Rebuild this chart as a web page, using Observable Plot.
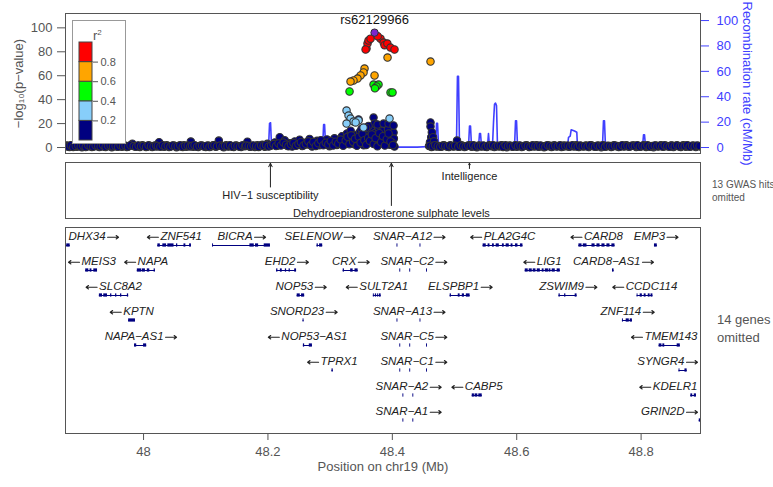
<!DOCTYPE html>
<html><head><meta charset="utf-8">
<script src="https://cdn.jsdelivr.net/npm/d3@7"></script>
<script src="https://cdn.jsdelivr.net/npm/@observablehq/plot@0.6"></script>
<style>
body{margin:0;background:#fff;font-family:"Liberation Sans",Arial,Helvetica,sans-serif;}
#wrap{position:relative;width:773px;height:487px;overflow:hidden;background:#fff}
#wrap > *{position:absolute}
.note{color:#555;white-space:nowrap}
</style></head><body><div id="wrap"></div>
<script>
// ---------------- DATA ----------------
const xDomain = [47.8745, 48.8955];           // Mb shown on chr19
const xTicks = [48, 48.2, 48.4, 48.6, 48.8];
const yTicks = [0, 20, 40, 60, 80, 100];      // -log10(p)
const recTicks = [0, 20, 40, 60, 80, 100];    // cM/Mb

const leadSNP = {id: "rs62129966", pos: 48.3714, logp: 96};

const r2Breaks = [0.2, 0.4, 0.6, 0.8];
const r2Colors = ["#000080", "#87CEFA", "#00FF00", "#FFA500", "#FF0000"];

// [position Mb, -log10 p]
const redSNPs = [[48.3585,82.7],[48.3601,86.9],[48.3617,89.4],[48.365,91],[48.357,81.9],[48.381,91],
  [48.386,87.7],[48.3875,85.5],[48.392,86.9],[48.397,83.5],[48.4035,81.9],[48.3765,93]];
const orangeSNPs = [[48.3923,75.2],[48.4614,71.8],[48.3553,66],[48.3537,62.7],[48.3489,60.2],
  [48.344,57.6],[48.3376,56],[48.3328,55.1],[48.3714,60.2]];
const greenSNPs = [[48.3312,46.8],[48.3698,52.6],[48.3778,52.6],[48.3746,51],[48.3971,46],[48.4003,46],[48.372,49.5]];
const lightBlueSNPs = [[48.3264,30.9],[48.3296,26.7],[48.3328,24.2],[48.3376,21.7],[48.3457,22.6],
  [48.3537,16.7],[48.3264,20],[48.3955,24.2],[48.341,21]];
const navySNPs = [
  [47.873,0.9],[47.877,1.6],[47.881,0.4],[47.885,1.2],[47.889,1.8],[47.893,0.6],[47.897,1.4],[47.901,0.3],
  [47.905,1.7],[47.909,0.8],[47.913,1.3],[47.917,0.5],[47.921,1.9],[47.925,1.0],[47.929,0.4],[47.933,1.5],
  [47.937,0.7],[47.941,1.8],[47.945,1.1],[47.949,0.3],[47.953,1.6],[47.957,0.9],[47.961,1.4],[47.965,0.6],
  [47.969,1.7],[47.973,0.4],[47.977,1.2],[47.982,3.2],[47.986,0.8],[47.990,1.5],[47.994,0.5],[47.998,1.8],
  [48.002,1.0],[48.006,0.6],[48.010,1.4],[48.014,0.4],[48.018,1.6],[48.021,0.9],[48.025,4.4],[48.029,1.3],
  [48.033,0.7],[48.037,1.8],[48.041,0.5],[48.045,1.2],[48.049,1.6],[48.053,0.3],[48.057,1.5],[48.061,0.9],
  [48.065,1.8],[48.069,0.6],[48.073,1.3],[48.076,5.0],[48.080,0.6],[48.084,1.3],[48.088,0.4],[48.092,1.7],
  [48.096,1.0],[48.100,0.5],[48.104,1.6],[48.108,0.8],[48.112,1.9],[48.116,0.6],[48.121,5.8],[48.125,1.4],
  [48.129,0.3],[48.133,1.8],[48.137,0.9],[48.141,1.2],[48.145,0.5],[48.149,1.7],[48.153,1.1],[48.157,0.4],
  [48.161,1.5],[48.167,4.9],[48.171,0.6],[48.175,1.5],[48.179,0.4],[48.183,1.9],[48.187,1.0],[48.191,2.4],
  [48.195,0.7],[48.199,3.1],[48.203,1.3],[48.207,2.2],[48.211,4.2],[48.215,1.5],[48.219,8.6],[48.223,2.8],
  [48.227,6.0],[48.231,1.5],[48.235,3.6],[48.239,0.8],[48.243,5.1],[48.247,2.0],[48.251,6.5],[48.255,1.2],
  [48.259,4.0],[48.263,2.6],[48.267,7.1],[48.271,0.9],[48.275,3.3],[48.279,5.6],[48.283,1.8],[48.287,4.7],
  [48.291,2.5],[48.295,6.8],[48.299,1.1],[48.303,3.9],[48.307,7.7],[48.311,2.2],[48.315,5.3],[48.319,9.5],
  [48.323,3.0],[48.327,11.8],[48.330,6.2],[48.333,14.0],[48.336,8.4],[48.339,2.7],[48.342,10.6],[48.345,5.0],
  [48.348,13.2],[48.351,7.5],[48.354,1.8],[48.357,11.0],[48.360,4.3],[48.363,9.2],[48.366,14.8],[48.369,6.7],
  [48.372,12.2],[48.375,3.5],[48.378,16.0],[48.381,8.8],[48.384,13.6],[48.387,5.4],[48.390,10.3],[48.393,15.1],
  [48.396,2.4],[48.399,9.7],[48.402,12.5],[48.4025,7.5],[48.4035,0.8],[48.400,4.0],
  [48.3698,25],[48.3714,20],[48.3762,19.2],[48.3859,20],[48.3939,20],[48.402,18.4],[48.3457,23.4],
  [48.3617,18],[48.3505,15.5],[48.358,16.5],
  [48.4614,20.9],[48.4614,17.5],[48.4625,8.6],[48.4635,12.8],[48.4655,8.6],[48.4605,4.5],[48.467,5.2],
  [48.459,1.2],[48.463,0.5],[48.467,1.7],[48.471,0.9],[48.475,1.3],[48.479,0.6],[48.483,1.8],[48.487,1.0],
  [48.491,0.4],[48.495,1.5],[48.499,0.8],[48.504,5.8],[48.508,0.7],[48.512,1.6],[48.516,0.4],[48.520,1.3],
  [48.524,1.9],[48.528,0.6],[48.532,1.4],[48.536,0.3],[48.540,1.7],[48.544,0.9],[48.548,1.2],[48.552,0.5],
  [48.556,1.8],[48.560,1.0],[48.564,0.4],[48.568,1.5],[48.572,0.8],[48.576,1.9],[48.580,1.1],[48.584,0.3],
  [48.588,1.6],[48.592,0.9],[48.596,1.4],[48.600,0.6],[48.604,1.7],[48.608,0.4],[48.612,1.2],[48.616,1.8],
  [48.620,0.5],[48.624,1.5],[48.628,0.9],[48.632,1.9],[48.636,0.7],[48.640,1.3],[48.644,0.3],[48.648,1.6],
  [48.652,1.0],[48.656,0.5],[48.660,1.8],[48.664,0.8],[48.668,1.4],[48.672,0.4],[48.676,1.7],[48.680,1.1],
  [48.684,0.6],[48.688,1.5],[48.692,0.9],[48.696,1.9],[48.700,0.5],[48.704,1.3],[48.708,0.8],[48.712,1.6],
  [48.716,0.4],[48.720,1.8],[48.724,1.0],[48.728,0.6],[48.732,1.4],[48.736,0.3],[48.740,1.7],[48.744,0.9],
  [48.748,1.2],[48.752,0.5],[48.756,1.8],[48.760,1.1],[48.764,0.4],[48.768,1.5],[48.772,0.8],[48.776,1.9],
  [48.780,0.6],[48.784,1.3],[48.788,1.7],[48.792,0.4],[48.796,1.2],[48.800,0.9],[48.804,1.8],[48.808,0.5],
  [48.812,1.4],[48.816,1.0],[48.820,0.3],[48.824,1.6],[48.828,0.8],[48.832,1.9],[48.836,0.6],[48.840,1.3],
  [48.844,0.9],[48.848,1.7],[48.852,0.4],[48.856,1.5],[48.860,1.1],[48.864,0.5],[48.868,1.8],[48.872,0.7],
  [48.876,1.4],[48.880,0.9],[48.884,1.6],[48.888,0.4],[48.892,1.2],[48.896,0.8]
];
// second layer of low-LD SNPs filling the dense baseline band
const navyBandSNPs = [
  [47.875,1.4],[47.879,0.7],[47.883,1.9],[47.887,0.5],[47.891,1.3],[47.895,1.7],[47.899,0.9],[47.903,1.5],
  [47.907,0.4],[47.911,1.8],[47.915,1.1],[47.919,0.6],[47.923,1.6],[47.927,1.2],[47.931,0.8],[47.935,1.9],
  [47.939,0.5],[47.943,1.4],[47.947,1.7],[47.951,0.9],[47.955,1.3],[47.959,0.6],[47.963,1.8],[47.967,1.0],
  [47.971,1.5],[47.975,0.7],[47.979,1.9],[47.984,1.2],[47.988,0.6],[47.992,1.7],[47.996,1.0],[48.000,1.4],
  [48.004,0.5],[48.008,1.8],[48.012,1.1],[48.016,0.8],[48.020,1.6],[48.023,1.3],[48.027,0.7],[48.031,1.9],
  [48.035,1.0],[48.039,1.4],[48.043,0.6],[48.047,1.7],[48.051,1.1],[48.055,0.9],[48.059,1.8],[48.063,0.5],
  [48.067,1.3],[48.071,1.6],[48.075,0.8],[48.078,1.4],[48.082,1.9],[48.086,0.7],[48.090,1.2],[48.094,1.6],
  [48.098,0.9],[48.102,1.5],[48.106,0.4],[48.110,1.3],[48.114,1.8],[48.118,1.0],[48.123,1.6],[48.127,0.8],
  [48.131,1.4],[48.135,1.1],[48.139,1.9],[48.143,0.6],[48.147,1.5],[48.151,1.2],[48.155,0.7],[48.159,1.8],
  [48.163,1.0],[48.165,1.6],[48.169,1.3],[48.173,0.9],[48.177,1.7],[48.181,1.1],[48.185,0.5],[48.189,1.8],
  [48.193,1.3],[48.197,2.2],[48.201,0.8],[48.205,1.6],[48.209,2.9],[48.213,1.2],[48.217,3.4],[48.221,1.7],
  [48.225,4.1],[48.229,2.3],[48.233,1.0],[48.237,2.7],[48.241,3.8],[48.245,1.4],[48.249,2.9],[48.253,4.4],
  [48.257,1.6],[48.261,3.1],[48.265,5.2],[48.269,2.0],[48.273,4.6],[48.277,1.3],[48.281,3.5],[48.285,6.1],
  [48.289,1.9],[48.293,4.0],[48.297,2.6],[48.301,5.5],[48.305,1.7],[48.309,4.9],[48.313,3.2],[48.317,6.6],
  [48.321,1.5],[48.325,5.8],[48.328,8.9],[48.331,2.8],[48.334,10.2],[48.337,4.6],[48.340,7.3],[48.343,1.4],
  [48.346,9.0],[48.349,3.9],[48.352,11.4],[48.355,6.1],[48.358,2.2],[48.361,8.0],[48.364,5.5],[48.367,10.9],
  [48.370,2.9],[48.373,7.8],[48.376,1.0],[48.379,12.0],[48.382,4.5],[48.385,9.4],[48.388,1.6],[48.391,6.9],
  [48.394,11.7],[48.397,5.1],[48.401,2.0],
  [48.461,1.5],[48.465,0.8],[48.469,1.9],[48.473,1.1],[48.477,0.6],[48.481,1.6],[48.485,1.3],[48.489,0.7],
  [48.493,1.8],[48.497,1.0],[48.501,1.5],[48.506,0.6],[48.510,1.9],[48.514,1.2],[48.518,0.8],[48.522,1.6],
  [48.526,1.1],[48.530,1.8],[48.534,0.7],[48.538,1.4],[48.542,1.0],[48.546,1.7],[48.550,0.6],[48.554,1.5],
  [48.558,1.2],[48.562,1.9],[48.566,0.8],[48.570,1.3],[48.574,1.6],[48.578,0.5],[48.582,1.8],[48.586,1.1],
  [48.590,1.4],[48.594,0.7],[48.598,1.9],[48.602,1.0],[48.606,1.5],[48.610,0.8],[48.614,1.6],[48.618,1.2],
  [48.622,0.6],[48.626,1.8],[48.630,1.3],[48.634,0.9],[48.638,1.7],[48.642,1.1],[48.646,0.6],[48.650,1.9],
  [48.654,1.4],[48.658,0.8],[48.662,1.5],[48.666,1.0],[48.670,1.8],[48.674,0.7],[48.678,1.3],[48.682,1.6],
  [48.686,0.9],[48.690,1.9],[48.694,1.2],[48.698,0.6],[48.702,1.7],[48.706,1.1],[48.710,1.4],[48.714,0.8],
  [48.718,1.9],[48.722,1.3],[48.726,0.7],[48.730,1.6],[48.734,1.0],[48.738,1.8],[48.742,0.6],[48.746,1.5],
  [48.750,1.2],[48.754,0.9],[48.758,1.7],[48.762,1.3],[48.766,0.6],[48.770,1.9],[48.774,1.1],[48.778,1.4],
  [48.782,0.8],[48.786,1.6],[48.790,1.2],[48.794,1.9],[48.798,0.7],[48.802,1.5],[48.806,1.1],[48.810,1.8],
  [48.814,0.6],[48.818,1.3],[48.822,1.7],[48.826,1.0],[48.830,1.5],[48.834,0.8],[48.838,1.9],[48.842,1.2],
  [48.846,0.6],[48.850,1.6],[48.854,1.1],[48.858,1.8],[48.862,0.9],[48.866,1.4],[48.870,1.2],[48.874,1.9],
  [48.878,0.6],[48.882,1.5],[48.886,1.0],[48.890,1.7],[48.894,1.3]
];

// recombination rate (cM/Mb)
const recombPos  = [47.8745,48.0,48.1,48.2010,48.2026,48.2042,48.2058,48.2880,48.2895,48.2911,48.2927,48.350,48.404,48.440,
  48.4695,48.4711,48.4727,48.4743,48.5031,48.5047,48.5064,48.5080,48.5225,48.5241,48.5257,48.5273,
  48.5386,48.5402,48.5418,48.5434,48.5530,48.5546,48.5562,48.5611,48.5627,48.5643,48.5659,48.5675,48.5691,
  48.5965,48.5981,48.5997,48.6013,48.6817,48.6833,48.6860,48.6876,48.6930,48.6966,48.6977,
  48.7379,48.7395,48.7411,48.7427,48.8023,48.8039,48.8055,48.8071,48.8955];
const recombRate = [0.8,0.6,1.0,0.8,19,19.5,0.8,0.9,18,18,0.8,1.5,0.3,0.3,
  1.0,19,19,1.0,1.0,56,56,1.0,1.0,17,17,1.0,
  1.0,11,11,1.0,1.0,11,1.0,2.0,20,34,35,33,1.0,
  1.0,21,21,1.0,1.0,8,9,14,13,12,1.0,
  1.0,21,21,1.0,1.0,10,10,1.0,1.0];

// GWAS catalog hits
const gwasTraits = ["HIV\u22121 susceptibility", "Dehydroepiandrosterone sulphate levels", "Intelligence"];
const gwasPos    = [48.204, 48.3985, 48.524];
const gwasLevel  = [1, 2, 0];

// genes: strand 1 = forward, -1 = reverse; exons as [start,end] Mb
const genes = [
 {name:"DHX34", strand:1, row:1, exons:[[47.866,47.875],[47.8765,47.882]]},
 {name:"ZNF541", strand:-1, row:1, exons:[[48.023,48.027],[48.031,48.037],[48.039,48.049],[48.053,48.055],[48.065,48.068],[48.074,48.077]]},
 {name:"BICRA", strand:1, row:1, exons:[[48.111,48.1125],[48.171,48.178],[48.180,48.185],[48.194,48.204]]},
 {name:"SELENOW", strand:1, row:1, exons:[[48.279,48.281],[48.283,48.288]]},
 {name:"SNAR\u2212A12", strand:1, row:1, line:false, exons:[[48.4075,48.409],[48.4445,48.446]]},
 {name:"PLA2G4C", strand:-1, row:1, exons:[[48.546,48.551],[48.554,48.557],[48.561,48.564],[48.567,48.572],[48.577,48.580],[48.583,48.588],[48.591,48.594],[48.598,48.602],[48.606,48.610]]},
 {name:"CARD8", strand:-1, row:1, exons:[[48.700,48.705],[48.707,48.713],[48.721,48.726],[48.729,48.734],[48.737,48.742],[48.745,48.750],[48.753,48.758]]},
 {name:"EMP3", strand:1, row:1, exons:[[48.8215,48.826]]},
 {name:"MEIS3", strand:-1, row:2, exons:[[47.907,47.912],[47.914,47.917],[47.920,47.926]]},
 {name:"NAPA", strand:-1, row:2, exons:[[47.990,47.997],[47.998,48.003],[48.006,48.010],[48.017,48.019]]},
 {name:"EHD2", strand:1, row:2, exons:[[48.214,48.216],[48.220,48.223],[48.228,48.230],[48.234,48.236],[48.243,48.246]]},
 {name:"CRX", strand:1, row:2, exons:[[48.321,48.323],[48.333,48.337],[48.340,48.345]]},
 {name:"SNAR\u2212C2", strand:1, row:2, line:false, exons:[[48.412,48.4135],[48.428,48.4295],[48.455,48.4565]]},
 {name:"LIG1", strand:-1, row:2, exons:[[48.6137,48.6185],[48.620,48.625],[48.6265,48.631],[48.633,48.638],[48.641,48.644],[48.646,48.651],[48.652,48.655],[48.657,48.662],[48.665,48.670]]},
 {name:"CARD8\u2212AS1", strand:1, row:2, exons:[[48.754,48.7565]]},
 {name:"SLC8A2", strand:-1, row:3, exons:[[47.929,47.934],[47.936,47.942],[47.947,47.949],[47.955,47.957],[47.963,47.965],[47.974,47.976]]},
 {name:"NOP53", strand:1, row:3, exons:[[48.247,48.252],[48.254,48.259]]},
 {name:"SULT2A1", strand:-1, row:3, exons:[[48.3695,48.371],[48.3727,48.3745],[48.376,48.3775],[48.379,48.382]]},
 {name:"ELSPBP1", strand:1, row:3, exons:[[48.493,48.495],[48.506,48.509],[48.5125,48.516],[48.519,48.525]]},
 {name:"ZSWIM9", strand:1, row:3, exons:[[48.668,48.670],[48.677,48.679],[48.694,48.697]]},
 {name:"CCDC114", strand:-1, row:3, exons:[[48.7936,48.795],[48.7985,48.802],[48.805,48.808],[48.8115,48.8145],[48.816,48.819]]},
 {name:"KPTN", strand:-1, row:4, exons:[[47.976,47.987]]},
 {name:"SNORD23", strand:1, row:4, exons:[[48.2565,48.258]]},
 {name:"SNAR\u2212A13", strand:1, row:4, line:false, exons:[[48.4075,48.409],[48.4445,48.446]]},
 {name:"ZNF114", strand:1, row:4, exons:[[48.770,48.7715],[48.776,48.781],[48.7825,48.786]]},
 {name:"NAPA\u2212AS1", strand:1, row:5, exons:[[47.9855,47.989],[48.000,48.005]]},
 {name:"NOP53\u2212AS1", strand:-1, row:5, exons:[[48.257,48.259],[48.2665,48.2715]]},
 {name:"SNAR\u2212C5", strand:1, row:5, line:false, exons:[[48.412,48.4135],[48.428,48.4295],[48.455,48.4565]]},
 {name:"TMEM143", strand:-1, row:5, exons:[[48.829,48.8335],[48.835,48.838],[48.858,48.863]]},
 {name:"TPRX1", strand:-1, row:6, exons:[[48.303,48.305]]},
 {name:"SNAR\u2212C1", strand:1, row:6, line:false, exons:[[48.412,48.4135],[48.428,48.4295],[48.455,48.4565]]},
 {name:"SYNGR4", strand:1, row:6, exons:[[48.861,48.8625],[48.8705,48.874]]},
 {name:"SNAR\u2212A2", strand:1, row:7, line:false, exons:[[48.417,48.4185],[48.433,48.4345]]},
 {name:"CABP5", strand:-1, row:7, exons:[[48.5285,48.532],[48.533,48.5375],[48.539,48.5445]]},
 {name:"KDELR1", strand:-1, row:7, exons:[[48.880,48.883],[48.8855,48.889]]},
 {name:"SNAR\u2212A1", strand:1, row:8, line:false, exons:[[48.417,48.4185],[48.433,48.4345]]},
 {name:"GRIN2D", strand:1, row:8, exons:[[48.8935,48.900]]}
];
const gwasOmitted = "13 GWAS hits";
const genesOmitted = "14 genes";

// ---------------- LAYOUT / STYLE ----------------
const FONT = '"Liberation Sans", Arial, Helvetica, sans-serif';
const GREY = "#555";
const BLUE = "#4040ff";
const ML = 65, MR = 73;              // frame spans x 65..700
const wrap = document.getElementById("wrap");
function place(el, left, topPx) { el.style.left = left + "px"; el.style.top = topPx + "px"; wrap.appendChild(el); return el; }

// ---- top association panel ----
const k = 1.27 / 1.197; // recombination units -> left axis units
const snps = [
  ...navySNPs.map(([pos, logp]) => ({pos, logp, r2: 0.1})),
  ...navyBandSNPs.map(([pos, logp]) => ({pos, logp, r2: 0.1})),
  ...lightBlueSNPs.map(([pos, logp]) => ({pos, logp, r2: 0.3})),
  ...greenSNPs.map(([pos, logp]) => ({pos, logp, r2: 0.5})),
  ...orangeSNPs.map(([pos, logp]) => ({pos, logp, r2: 0.7})),
  ...redSNPs.map(([pos, logp]) => ({pos, logp, r2: 0.9}))
];
const recomb = recombPos.map((pos, i) => ({pos, rate: recombRate[i]}));

const assocPlot = Plot.plot({
  width: 773, height: 160, marginTop: 13, marginBottom: 7, marginLeft: ML, marginRight: MR,
  style: {fontFamily: FONT, fontSize: "13px", background: "transparent", overflow: "visible"},
  x: {domain: xDomain, axis: null},
  y: {domain: [-5, 112], axis: null},
  color: {type: "threshold", domain: r2Breaks, range: r2Colors},
  marks: [
    Plot.axisY({ticks: yTicks, tickSize: 8, tickPadding: 5, stroke: GREY, fill: GREY, label: null, fontSize: 13}),
    Plot.axisY({anchor: "right", ticks: recTicks.map(v => v * k), tickFormat: d => Math.round(d / k),
      tickSize: 8, tickPadding: 8, stroke: BLUE, fill: BLUE, label: null, fontSize: 13}),
    Plot.line(recomb, {x: "pos", y: d => d.rate * k, stroke: BLUE, strokeWidth: 1.6, clip: true}),
    Plot.dot(snps, {x: "pos", y: "logp", r: 3.7, fill: "r2", stroke: "#333", strokeWidth: 1.1, clip: true}),
    Plot.dot([leadSNP], {x: "pos", y: "logp", r: 3.7, fill: "#7D26CD", stroke: "#333", strokeWidth: 1}),
    Plot.text([leadSNP], {x: "pos", y: "logp", text: "id", dy: -13, fontSize: 13, fill: "#111"}),
    Plot.text(["\u2212log\u2081\u2080(p\u2212value)"], {frameAnchor: "left", textAnchor: "middle", dx: -47, rotate: -90, fontSize: 13, fill: GREY}),
    Plot.text(["Recombination rate (cM/Mb)"], {frameAnchor: "right", textAnchor: "middle", dx: 47, rotate: 90, fontSize: 13, fill: BLUE}),
    Plot.frame({stroke: "#555"})
  ]
});
place(assocPlot, 0, 0);

// ---- r2 legend ----
const legBox = document.createElement("div");
legBox.style.cssText = "width:52px;height:122px;border:1px solid #999;background:#fff;";
place(legBox, 72, 20);
const legTitle = document.createElement("div");
legTitle.innerHTML = 'r<sup style="font-size:8px">2</sup>';
legTitle.style.cssText = `font:13px ${FONT};color:${GREY};line-height:13px;`;
place(legTitle, 93, 26);
const bins = r2Colors.map((c, i) => ({lo: i === 0 ? 0 : r2Breaks[i - 1], hi: i === r2Colors.length - 1 ? 1 : r2Breaks[i], c}));
const legend = Plot.plot({
  width: 46, height: 98, marginTop: 0, marginBottom: 0, marginLeft: 0, marginRight: 33,
  style: {fontFamily: FONT, fontSize: "11px", background: "transparent", overflow: "visible"},
  y: {domain: [0, 1], axis: null},
  marks: [
    Plot.rect(bins, {y1: "lo", y2: "hi", fill: "c", stroke: "#444", strokeWidth: 1}),
    Plot.axisY({anchor: "right", ticks: r2Breaks, tickSize: 5, tickPadding: 3, stroke: GREY, fill: GREY, label: null, fontSize: 11})
  ]
});
place(legend, 79, 42);

// ---- GWAS panel ----
const gwas = gwasTraits.map((trait, i) => ({trait, pos: gwasPos[i], ly: 14 + 18.5 * gwasLevel[i]}));
const gw = Plot.plot({
  width: 773, height: 62, marginTop: 4, marginBottom: 2, marginLeft: ML, marginRight: MR,
  style: {fontFamily: FONT, fontSize: "11px", background: "transparent", overflow: "visible"},
  x: {domain: xDomain, axis: null},
  y: {domain: [0, 56], reverse: true, axis: null},
  marks: [
    Plot.arrow(gwas, {x1: "pos", x2: "pos", y1: d => d.ly - 8, y2: 0.6, stroke: "#222", strokeWidth: 1, headLength: 6, headAngle: 50}),
    Plot.text(gwas, {x: "pos", y: "ly", text: "trait", fontSize: 11, fill: "#222"}),
    Plot.frame({stroke: "#555"})
  ]
});
place(gw, 0, 158);
const n1 = document.createElement("div");
n1.className = "note";
n1.innerHTML = gwasOmitted + "<br>omitted";
n1.style.cssText += "font-size:10px;line-height:13px;";
place(n1, 712, 178);

// ---- gene panel ----
const LABEL_SIZE = 11.5;
const pxPerMb = (773 - ML - MR) / (xDomain[1] - xDomain[0]);
const ctx = document.createElement("canvas").getContext("2d");
ctx.font = `italic ${LABEL_SIZE}px ${FONT}`;
const GAP = 2, ARROW = 11;             // px: gap between name and strand arrow, arrow length
const geneLines = [], exons = [], labels = [], strandArrows = [];
for (const g of genes) {
  const s = d3.min(g.exons, e => e[0]), e = d3.max(g.exons, e => e[1]);
  if (g.line !== false) geneLines.push({row: g.row, s, e});
  for (const [a, b] of g.exons) exons.push({row: g.row, a, b});
  const w = ctx.measureText(g.name).width;
  const half = ((w + GAP + ARROW) / 2 + 3) / pxPerMb;
  const c = Math.max(xDomain[0] + half, Math.min(xDomain[1] - half, (s + e) / 2));
  const shift = (GAP + ARROW) / 2 / pxPerMb * g.strand;
  const tx = c - shift;
  labels.push({row: g.row, x: tx, text: g.name});
  const edge = tx + g.strand * (w / 2 + GAP) / pxPerMb;
  strandArrows.push({row: g.row, x1: edge, x2: edge + g.strand * ARROW / pxPerMb});
}
const labelLift = 0.33; // rows above the gene line where the label sits
const gp = Plot.plot({
  width: 773, height: 267, marginTop: 7, marginBottom: 54, marginLeft: ML, marginRight: MR,
  style: {fontFamily: FONT, fontSize: "13px", background: "transparent", overflow: "visible"},
  x: {domain: xDomain, axis: null},
  y: {domain: [0.28, 8.52], reverse: true, axis: null},
  marks: [
    Plot.ruleY(geneLines, {y: "row", x1: "s", x2: "e", stroke: "#000080", strokeWidth: 1, clip: true}),
    Plot.rect(exons, {x1: "a", x2: "b", y1: d => d.row - 0.065, y2: d => d.row + 0.065, fill: "#000080", clip: true}),
    Plot.text(labels, {x: "x", y: "row", text: "text", dy: -9, fontSize: LABEL_SIZE, fontStyle: "italic", fill: "#222"}),
    Plot.arrow(strandArrows, {x1: "x1", x2: "x2", y1: d => d.row - labelLift, y2: d => d.row - labelLift,
      stroke: "#222", strokeWidth: 1.1, headLength: 4, headAngle: 70}),
    Plot.axisX({ticks: xTicks, tickFormat: d => String(+d.toFixed(1)), tickSize: 7, tickPadding: 6, stroke: GREY, fill: GREY, label: null, fontSize: 13}),
    Plot.text(["Position on chr19 (Mb)"], {frameAnchor: "bottom", dy: 37, fontSize: 13, fill: GREY}),
    Plot.frame({stroke: "#555"})
  ]
});
place(gp, 0, 220);
const n2 = document.createElement("div");
n2.className = "note";
n2.innerHTML = genesOmitted + "<br>omitted";
n2.style.cssText += "font-size:13px;line-height:18px;";
place(n2, 717, 311);
</script></body></html>
